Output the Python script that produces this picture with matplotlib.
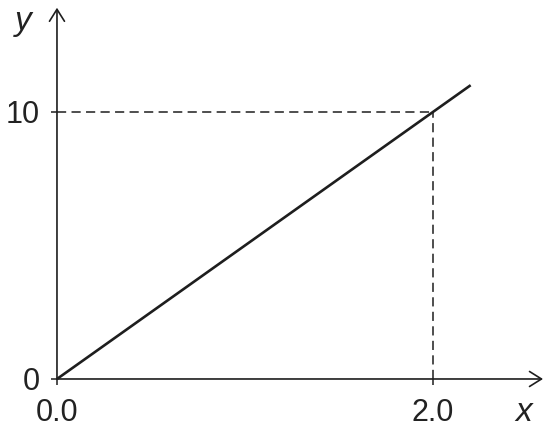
import matplotlib.pyplot as plt

# line y = 5x, drawn from 0 to 2.2
line_x = [0.0, 2.2]
line_y = [0.0, 11.0]

# marked point
mark_x = 2.0
mark_y = 10

x_ticks = [0.0, 2.0]
x_labels = ["0.0", "2.0"]
y_ticks = [0, 10]
y_labels = ["0", "10"]

x_end = 2.585   # where the x arrow stops
y_end = 13.9    # where the y arrow stops

plt.rcParams['font.family'] = ['Liberation Sans', 'DejaVu Sans']

fig = plt.figure(figsize=(5.5, 4.3), dpi=100)
ax = fig.add_axes([0, 0, 1, 1])
ax.set_xlim(-0.303, 2.622)
ax.set_ylim(-1.91, 14.19)

# put the axes through the origin, hide the spines (arrows drawn below)
ax.spines['left'].set_position(('data', 0))
ax.spines['bottom'].set_position(('data', 0))
for s in ax.spines.values():
    s.set_visible(False)

# axes with open arrow heads
arrow = dict(arrowstyle='->,head_length=0.86,head_width=0.54', color='#1e1e1e',
             lw=1.2, shrinkA=0, shrinkB=0, mutation_scale=10)
ax.annotate('', xy=(x_end, 0), xytext=(0, 0), arrowprops=arrow)
ax.annotate('', xy=(0, y_end), xytext=(0, 0), arrowprops=arrow)

# dashed guides to the marked point
dash = dict(color='#1e1e1e', lw=1.1, dashes=(6, 3.5))
ax.plot([0, mark_x], [mark_y, mark_y], **dash)
ax.plot([mark_x, mark_x], [0, mark_y], **dash)

# the line itself
ax.plot(line_x, line_y, color='#1e1e1e', lw=1.9, solid_capstyle='butt')

ax.set_xticks(x_ticks, x_labels)
ax.set_yticks(y_ticks, y_labels)
ax.tick_params(axis='both', direction='out', length=4.5, width=1.1,
               color='#1e1e1e', labelsize=22, labelcolor='#222222')
ax.tick_params(axis='x', pad=9)
ax.tick_params(axis='y', pad=8)

ax.text(-0.18, 13.07, 'y', fontsize=24, style='italic', color='#222222',
        ha='center', va='baseline')
ax.text(2.48, -1.58, 'x', fontsize=24, style='italic', color='#222222',
        ha='center', va='baseline')

fig.savefig('out.png', dpi=100)
